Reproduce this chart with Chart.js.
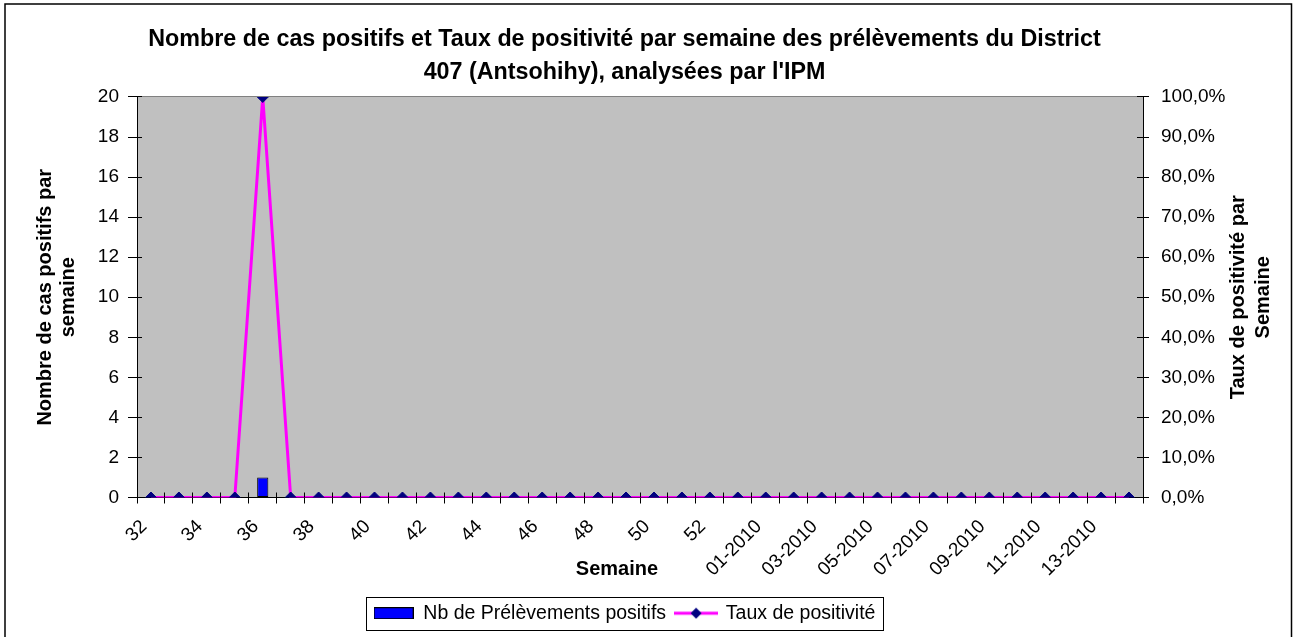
<!DOCTYPE html>
<html>
<head>
<meta charset="utf-8">
<script src="https://cdn.jsdelivr.net/npm/chart.js@4.4.1/dist/chart.umd.min.js"></script>
<style>
  html, body { margin: 0; padding: 0; background: #fff; }
</style>
</head>
<body>
<canvas id="myChart" width="1299" height="637"></canvas>
<script>
// semaines 32 a 53 (2009) puis 01 a 14 (2010)
const weeks = ['32', '33', '34', '35', '36', '37', '38', '39', '40', '41', '42', '43',
  '44', '45', '46', '47', '48', '49', '50', '51', '52', '53',
  '01-2010', '02-2010', '03-2010', '04-2010', '05-2010', '06-2010', '07-2010',
  '08-2010', '09-2010', '10-2010', '11-2010', '12-2010', '13-2010', '14-2010']

const positifs = [0, 0, 0, 0, 1, 0, 0, 0, 0, 0, 0, 0,
  0, 0, 0, 0, 0, 0, 0, 0, 0, 0,
  0, 0, 0, 0, 0, 0, 0, 0, 0, 0, 0, 0, 0, 0]

// taux en %
const taux = [0, 0, 0, 0, 100, 0, 0, 0, 0, 0, 0, 0,
  0, 0, 0, 0, 0, 0, 0, 0, 0, 0,
  0, 0, 0, 0, 0, 0, 0, 0, 0, 0, 0, 0, 0, 0]

const titleLines = [
  "Nombre de cas positifs et Taux de positivité par semaine des prélèvements du District",
  "407 (Antsohihy), analysées par l'IPM"
]
const yTitle = ['Nombre de cas positifs par', 'semaine']
const y1Title = ['Taux de positivité par', 'Semaine']
const xTitle = 'Semaine'

const FONT = '"Liberation Sans", Arial, sans-serif'
Chart.defaults.font.family = FONT
Chart.defaults.color = '#000'

// legend swatches
function makeBarSwatch() {
  const c = document.createElement('canvas')
  c.width = 40; c.height = 12
  const g = c.getContext('2d')
  g.fillStyle = '#0000ff'
  g.fillRect(0, 0, 40, 12)
  g.strokeStyle = '#000'
  g.lineWidth = 1
  g.strokeRect(0.5, 0.5, 39, 11)
  return c
}
function makeLineSwatch() {
  const c = document.createElement('canvas')
  c.width = 44; c.height = 12
  const g = c.getContext('2d')
  g.strokeStyle = '#ff00ff'
  g.lineWidth = 3
  g.beginPath(); g.moveTo(0, 6); g.lineTo(44, 6); g.stroke()
  g.fillStyle = '#000080'
  g.beginPath(); g.moveTo(22, 0.5); g.lineTo(27.5, 6); g.lineTo(22, 11.5); g.lineTo(16.5, 6); g.closePath(); g.fill()
  return c
}
const barSwatch = makeBarSwatch()
const lineSwatch = makeLineSwatch()

function align(p) { return Math.round(p - 0.5) + 0.5 }

const decor = {
  id: 'decor',
  beforeDraw(chart) {
    const { ctx, chartArea: a } = chart
    ctx.save()
    ctx.fillStyle = '#fff'
    ctx.fillRect(0, 0, chart.width, chart.height)
    ctx.fillStyle = '#c0c0c0'
    ctx.fillRect(a.left, a.top, a.right - a.left, a.bottom - a.top)
    ctx.strokeStyle = '#808080'
    ctx.lineWidth = 1
    ctx.beginPath()
    ctx.moveTo(a.left, align(a.top)); ctx.lineTo(a.right, align(a.top))
    ctx.stroke()
    ctx.strokeStyle = '#000'
    ctx.lineWidth = 1.5
    ctx.strokeRect(5, 4, 1286.5, 700)
    ctx.restore()
  },
  afterDatasetsDraw(chart) {
    // petites graduations vers l'interieur (Excel "en croix")
    const { ctx, chartArea: a, scales } = chart
    ctx.save()
    ctx.strokeStyle = '#000'
    ctx.lineWidth = 1
    ctx.beginPath()
    for (let i = 0; i <= weeks.length; i++) {
      const px = align(scales.x.getPixelForValue(i - 0.5))
      ctx.moveTo(px, a.bottom - 5); ctx.lineTo(px, a.bottom)
    }
    scales.y.ticks.forEach(t => {
      const py = align(scales.y.getPixelForValue(t.value))
      ctx.moveTo(a.left, py); ctx.lineTo(a.left + 5, py)
    })
    scales.y1.ticks.forEach(t => {
      const py = align(scales.y1.getPixelForValue(t.value))
      ctx.moveTo(a.right - 6, py); ctx.lineTo(a.right, py)
    })
    ctx.stroke()
    ctx.restore()
  },
  afterDraw(chart) {
    const { ctx, chartArea: a } = chart
    const midY = (a.top + a.bottom) / 2
    ctx.save()
    ctx.fillStyle = '#000'
    ctx.font = 'bold 20px ' + FONT
    ctx.textAlign = 'center'
    ctx.textBaseline = 'middle'
    const vtext = (lines, x0, dx) => {
      ctx.save()
      ctx.translate(x0, midY)
      ctx.rotate(-Math.PI / 2)
      lines.forEach((t, i) => ctx.fillText(t, 0, i * dx))
      ctx.restore()
    }
    vtext(yTitle, 45, 23)
    vtext(y1Title, 1238, 25)
    ctx.fillText(xTitle, 617, 569)

    // cadre de la legende
    const hb = chart.legend.legendHitBoxes
    if (hb && hb.length) {
      const first = hb[0], last = hb[hb.length - 1]
      const mid = first.top + first.height / 2
      const l = Math.round(first.left - 8) + 0.5
      const r = Math.round(last.left + last.width + 8) + 0.5
      ctx.strokeStyle = '#000'
      ctx.lineWidth = 1
      ctx.strokeRect(l, Math.round(mid - 16) + 0.5, r - l, 33)
    }
    ctx.restore()
  }
}

const ctx = document.getElementById('myChart')

new Chart(ctx, {
  data: {
    labels: weeks,
    datasets: [{
      type: 'bar',
      label: 'Nb de Prélèvements positifs',
      data: positifs,
      backgroundColor: '#0000ff',
      borderColor: '#000',
      borderWidth: 1,
      borderSkipped: false,
      barPercentage: 0.4,
      categoryPercentage: 1,
      yAxisID: 'y',
      order: 1
    }, {
      type: 'line',
      label: 'Taux de positivité',
      data: taux,
      borderColor: '#ff00ff',
      borderWidth: 3,
      tension: 0,
      pointStyle: 'rectRot',
      pointRadius: 5.5,
      pointBackgroundColor: '#000080',
      pointBorderColor: '#000080',
      pointBorderWidth: 1,
      yAxisID: 'y1',
      order: 0
    }]
  },
  options: {
    responsive: false,
    animation: false,
    events: [],
    layout: { padding: { left: 0, right: 50, top: 0, bottom: 4 } },
    plugins: {
      title: {
        display: true,
        text: titleLines,
        color: '#000',
        font: { size: 23.3, weight: 'bold', lineHeight: 1.416 },
        padding: { top: 23, bottom: 8 }
      },
      legend: {
        position: 'bottom',
        labels: {
          usePointStyle: true,
          pointStyleWidth: 40,
          padding: 10,
          color: '#000',
          font: { size: 19.5 },
          sort: (a, b) => a.datasetIndex - b.datasetIndex,
          generateLabels(chart) {
            const items = Chart.defaults.plugins.legend.labels.generateLabels(chart)
            items.forEach(it => { it.pointStyle = it.datasetIndex === 0 ? barSwatch : lineSwatch })
            return items
          }
        }
      },
      tooltip: { enabled: false }
    },
    scales: {
      x: {
        offset: true,
        grid: { offset: true, drawOnChartArea: false, color: '#000', tickLength: 6 },
        border: { color: '#000' },
        ticks: {
          autoSkip: false,
          minRotation: 45,
          maxRotation: 45,
          padding: 12,
          labelOffset: -7,
          color: '#000',
          font: { size: 19 },
          callback: (v, i) => (i % 2 === 0 ? weeks[i] : '')
        },
        afterFit(s) { s.height = 96 }
      },
      y: {
        position: 'left',
        min: 0,
        max: 20,
        grid: { drawOnChartArea: false, color: '#000', tickLength: 9 },
        border: { color: '#000' },
        ticks: { stepSize: 2, padding: 9, color: '#000', font: { size: 19 } },
        afterFit(s) { s.width = 137 }
      },
      y1: {
        position: 'right',
        min: 0,
        max: 100,
        grid: { drawOnChartArea: false, color: '#000', tickLength: 6 },
        border: { color: '#000' },
        ticks: {
          stepSize: 10,
          padding: 12,
          color: '#000',
          font: { size: 19 },
          callback: v => v.toFixed(1).replace('.', ',') + '%'
        },
        afterFit(s) { s.width = 106 }
      }
    }
  },
  plugins: [decor]
})
</script>
</body>
</html>
